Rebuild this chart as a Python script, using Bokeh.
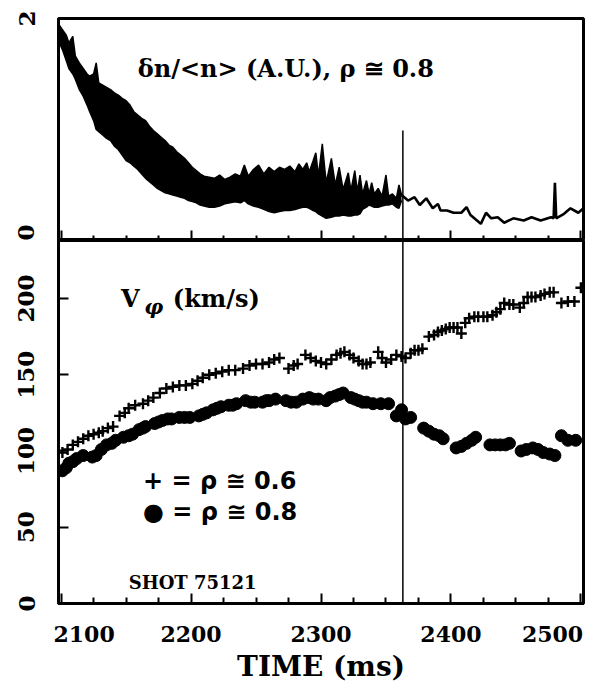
from bokeh.plotting import figure
from bokeh.layouts import column
from bokeh.models import Range1d, LinearAxis, FixedTicker, Label, Span
from bokeh.embed import file_html
from bokeh.resources import INLINE

# ---------------- data ----------------
# top panel: delta n / <n> (A.U.), fluctuating envelope up to ~2362 ms
band_t = [2098, 2101, 2104, 2106, 2109, 2111, 2114, 2117, 2120, 2122, 2125, 2127, 2129,
          2132, 2135, 2138, 2141, 2144, 2147, 2150, 2153, 2156, 2159, 2162, 2165, 2168,
          2171, 2174, 2177, 2180, 2183, 2186, 2189, 2192, 2195, 2198, 2201, 2204, 2207,
          2210, 2214, 2218, 2222, 2226, 2230, 2234, 2238, 2241, 2244, 2248, 2252, 2256,
          2260, 2264, 2268, 2272, 2276, 2280, 2283, 2286, 2289, 2291, 2294, 2296, 2298,
          2301, 2304, 2308, 2311, 2314, 2317, 2321, 2323, 2326, 2328, 2330, 2332, 2335,
          2337, 2339, 2341, 2344, 2347, 2350, 2352, 2355, 2358, 2360, 2362]
band_hi = [1.95, 1.90, 1.85, 1.78, 1.84, 1.66, 1.60, 1.55, 1.50, 1.48, 1.50, 1.60, 1.42,
           1.40, 1.38, 1.36, 1.33, 1.31, 1.28, 1.26, 1.22, 1.16, 1.13, 1.10, 1.08, 1.03,
           0.99, 0.96, 0.93, 0.90, 0.86, 0.84, 0.80, 0.77, 0.74, 0.70, 0.66, 0.63, 0.60,
           0.58, 0.57, 0.56, 0.59, 0.55, 0.57, 0.60, 0.58, 0.68, 0.58, 0.64, 0.68, 0.60,
           0.66, 0.62, 0.66, 0.64, 0.67, 0.62, 0.69, 0.64, 0.70, 0.62, 0.72, 0.79, 0.58,
           0.87, 0.52, 0.74, 0.50, 0.66, 0.46, 0.61, 0.45, 0.63, 0.44, 0.59, 0.42, 0.54,
           0.42, 0.52, 0.42, 0.47, 0.40, 0.59, 0.40, 0.42, 0.38, 0.50, 0.41]
band_lo = [1.80, 1.72, 1.62, 1.55, 1.50, 1.45, 1.36, 1.30, 1.22, 1.16, 1.08, 1.00, 0.98,
           0.95, 0.92, 0.90, 0.85, 0.82, 0.77, 0.72, 0.70, 0.67, 0.64, 0.60, 0.56, 0.53,
           0.50, 0.47, 0.45, 0.43, 0.42, 0.41, 0.40, 0.39, 0.38, 0.36, 0.35, 0.34, 0.32,
           0.31, 0.30, 0.30, 0.31, 0.33, 0.34, 0.35, 0.34, 0.36, 0.33, 0.31, 0.30, 0.28,
           0.26, 0.25, 0.26, 0.27, 0.27, 0.28, 0.29, 0.30, 0.30, 0.29, 0.27, 0.26, 0.24,
           0.22, 0.20, 0.21, 0.22, 0.22, 0.23, 0.22, 0.22, 0.23, 0.23, 0.24, 0.28, 0.30,
           0.32, 0.31, 0.30, 0.30, 0.31, 0.32, 0.32, 0.33, 0.30, 0.29, 0.36]
# top panel: single trace after ~2362 ms
trace_t = [2362, 2367, 2372, 2376, 2381, 2386, 2390, 2392, 2397, 2402, 2408, 2412, 2415,
           2423, 2427, 2431, 2436, 2441, 2448, 2456, 2462, 2469, 2477, 2479, 2480, 2481,
           2487, 2492, 2498, 2502]
trace_v = [0.41, 0.36, 0.39, 0.32, 0.38, 0.29, 0.33, 0.27, 0.27, 0.25, 0.25, 0.30, 0.23,
           0.15, 0.25, 0.20, 0.21, 0.16, 0.20, 0.18, 0.21, 0.18, 0.21, 0.20, 0.52, 0.20,
           0.24, 0.29, 0.25, 0.29]

# bottom panel: toroidal velocity V_phi (km/s)
t_06 = [2101, 2105, 2109, 2113, 2117, 2121, 2125, 2129, 2132, 2136, 2140, 2145, 2149,
        2152, 2157, 2163, 2167, 2171, 2176, 2181, 2186, 2191, 2196, 2201, 2205, 2209,
        2214, 2219, 2224, 2229, 2234, 2240, 2245, 2250, 2255, 2260, 2264, 2268, 2275,
        2279, 2282, 2288, 2292, 2296, 2300, 2304, 2308, 2312, 2315, 2318, 2322, 2325,
        2329, 2332, 2335, 2338, 2344, 2347, 2350, 2354, 2358, 2362, 2365, 2369, 2372,
        2375, 2378, 2383, 2387, 2390, 2393, 2396, 2399, 2402, 2405, 2408, 2411, 2414,
        2418, 2421, 2425, 2428, 2432, 2435, 2438, 2441, 2445, 2448, 2453, 2456, 2459,
        2462, 2465, 2469, 2472, 2476, 2479, 2485, 2490, 2495, 2500]
v_06 = [99, 101, 104, 106, 108, 110, 111, 112, 113, 115, 116, 123, 125,
        128, 130, 131, 133, 135, 138, 141, 142, 143, 143, 144, 146, 148,
        150, 151, 152, 153, 153, 154, 156, 157, 157, 158, 160, 161, 154,
        156, 157, 163, 161, 159, 158, 157, 160, 163, 164, 165, 163, 161,
        159, 157, 157, 158, 165, 161, 158, 160, 163, 162, 161, 164, 166,
        166, 167, 175, 176, 178, 179, 180, 181, 181, 181, 177, 184, 187,
        188, 188, 188, 188, 189, 191, 193, 197, 196, 196, 194, 197, 201,
        201, 201, 202, 203, 204, 204, 197, 198, 198, 207]
t_08 = [2101, 2104, 2106, 2109, 2112, 2117, 2124, 2127, 2131, 2135, 2139, 2142, 2148,
        2152, 2155, 2160, 2163, 2165, 2172, 2175, 2178, 2182, 2185, 2191, 2195, 2199,
        2206, 2209, 2212, 2217, 2220, 2223, 2229, 2232, 2235, 2242, 2246, 2249, 2255,
        2258, 2260, 2265, 2273, 2277, 2281, 2286, 2291, 2294, 2298, 2304, 2307, 2311,
        2314, 2317, 2323, 2326, 2329, 2332, 2335, 2340, 2346, 2352, 2358, 2362, 2365,
        2369, 2379, 2383, 2387, 2391, 2394, 2404, 2408, 2412, 2416, 2419, 2430, 2434,
        2438, 2442, 2445, 2454, 2458, 2463, 2467, 2471, 2476, 2480, 2485, 2490, 2496]
v_08 = [87, 89, 92, 93, 95, 97, 96, 97, 101, 104, 105, 107, 109,
        110, 111, 114, 115, 116, 118, 119, 120, 121, 121, 122, 122, 122,
        123, 124, 125, 127, 128, 129, 130, 130, 131, 133, 132, 132, 132,
        133, 133, 134, 133, 132, 132, 134, 135, 134, 134, 133, 135, 136,
        137, 138, 135, 134, 133, 132, 132, 131, 131, 131, 123, 127, 121,
        122, 115, 113, 111, 110, 108, 102, 103, 105, 107, 109, 104, 104,
        104, 104, 105, 100, 101, 102, 101, 99, 98, 97, 110, 107, 107]

# reference time marker
marker_t = 2363
marker_top = 0.99

x_ticks = [2100, 2200, 2300, 2400, 2500]
x_minor = [2125, 2150, 2175, 2225, 2250, 2275, 2325, 2350, 2375, 2425, 2450, 2475]
y_ticks_top = [0, 2]
y_ticks_bot = [0, 50, 100, 150, 200]

# ---------------- style ----------------
SERIF = "DejaVu Serif"
L, R = 58, 15
X0, X1 = 2098, 2502
NB = "\u00a0"


def base(height, top, bottom, y0, y1):
    p = figure(width=598, height=height, x_range=Range1d(X0, X1), y_range=Range1d(y0, y1),
               output_backend="svg", toolbar_location=None, x_axis_location=None,
               y_axis_location=None, min_border_left=L, min_border_right=R,
               min_border_top=top, min_border_bottom=bottom)
    p.grid.visible = False
    p.outline_line_color = "black"
    p.outline_line_width = 3
    p.background_fill_color = "white"
    p.border_fill_color = "white"
    return p


def style_y(ax, ticks, tick_len):
    ax.ticker = FixedTicker(ticks=ticks)
    ax.major_tick_in = tick_len
    ax.major_tick_out = 0
    ax.minor_tick_line_color = None
    ax.major_tick_line_width = 2
    ax.axis_line_width = 3
    ax.major_label_orientation = "vertical"
    ax.major_label_standoff = 24
    ax.major_label_text_font = SERIF
    ax.major_label_text_font_style = "bold"
    ax.major_label_text_font_size = "23px"
    ax.major_label_text_color = "black"


def style_x(ax, minor_len):
    ax.ticker = FixedTicker(ticks=x_ticks, minor_ticks=x_minor)
    ax.major_tick_in = 10
    ax.major_tick_out = 0
    ax.minor_tick_in = minor_len
    ax.minor_tick_out = 0
    ax.major_tick_line_width = 2
    ax.minor_tick_line_width = 2
    ax.axis_line_width = 3


# ---------- top panel ----------
top = base(240, 18, 0, 0, 2)
ax = LinearAxis()
style_y(ax, y_ticks_top, 0)
top.add_layout(ax, "left")
axb = LinearAxis()
style_x(axb, 5)
axb.major_label_overrides = {t: "" for t in x_ticks}
axb.major_label_standoff = 0
axb.major_label_text_font_size = "1px"
top.add_layout(axb, "below")

top.varea(x=band_t, y1=band_lo, y2=band_hi, fill_color="black")
top.line(band_t, band_hi, line_color="black", line_width=1.5)
top.line(band_t, band_lo, line_color="black", line_width=1.5)
top.line(trace_t, trace_v, line_color="black", line_width=2.6)
top.segment(x0=[marker_t], y0=[0], x1=[marker_t], y1=[marker_top],
            line_color="black", line_width=1.5)

top.add_layout(Label(x=2159, y=1.55, text="δn/<n> (A.U.), ρ ≅ 0.8",
                     text_font=SERIF, text_font_style="bold", text_font_size="24px",
                     text_baseline="middle", text_color="black"))

# ---------- bottom panel ----------
bot = base(451, 0, 88, 0, 238)
ay = LinearAxis()
style_y(ay, y_ticks_bot, 10)
bot.add_layout(ay, "left")
ax2 = LinearAxis()
style_x(ax2, 6)
ax2.major_label_standoff = 17
ax2.major_label_text_font = SERIF
ax2.major_label_text_font_style = "bold"
ax2.major_label_text_font_size = "22px"
ax2.major_label_text_color = "black"
# outermost labels sit inside the frame in the reference: pad with no-break spaces
ax2.major_label_overrides = {2100: NB * 6 + "2100", 2500: "2500" + NB * 2}
ax2.axis_label = "TIME (ms)"
ax2.axis_label_standoff = 0
ax2.axis_label_text_font = SERIF
ax2.axis_label_text_font_style = "bold"
ax2.axis_label_text_font_size = "28px"
ax2.axis_label_text_color = "black"
bot.add_layout(ax2, "below")

bot.add_layout(Span(location=marker_t, dimension="height", line_color="black", line_width=1.5))
bot.scatter(t_08, v_08, marker="circle", size=12, fill_color="black", line_color="black")
bot.scatter(t_06, v_06, marker="cross", size=11, line_color="black", line_width=2.4)

bot.add_layout(Label(x=2146, y=200, text="V", text_font=SERIF, text_font_style="bold",
                     text_font_size="24px", text_baseline="middle", text_color="black"))
bot.add_layout(Label(x=2164, y=195, text="φ", text_font=SERIF, text_font_size="21px",
                     text_font_style="bold italic", text_baseline="middle", text_color="black"))
bot.add_layout(Label(x=2186, y=200, text="(km/s)", text_font=SERIF, text_font_style="bold",
                     text_font_size="24px", text_baseline="middle", text_color="black"))
bot.add_layout(Label(x=2163, y=80, text="+ = ρ ≅ 0.6", text_font="DejaVu Sans",
                     text_font_style="bold", text_font_size="24px", text_baseline="middle",
                     text_color="black"))
bot.add_layout(Label(x=2163, y=60, text="● = ρ ≅ 0.8", text_font="DejaVu Sans",
                     text_font_style="bold", text_font_size="24px", text_baseline="middle",
                     text_color="black"))
bot.add_layout(Label(x=2152, y=14, text="SHOT 75121", text_font=SERIF,
                     text_font_style="bold", text_font_size="18px", text_baseline="middle",
                     text_color="black"))

p = column(top, bot, spacing=0)
open("out.html", "w").write(file_html(p, INLINE))
